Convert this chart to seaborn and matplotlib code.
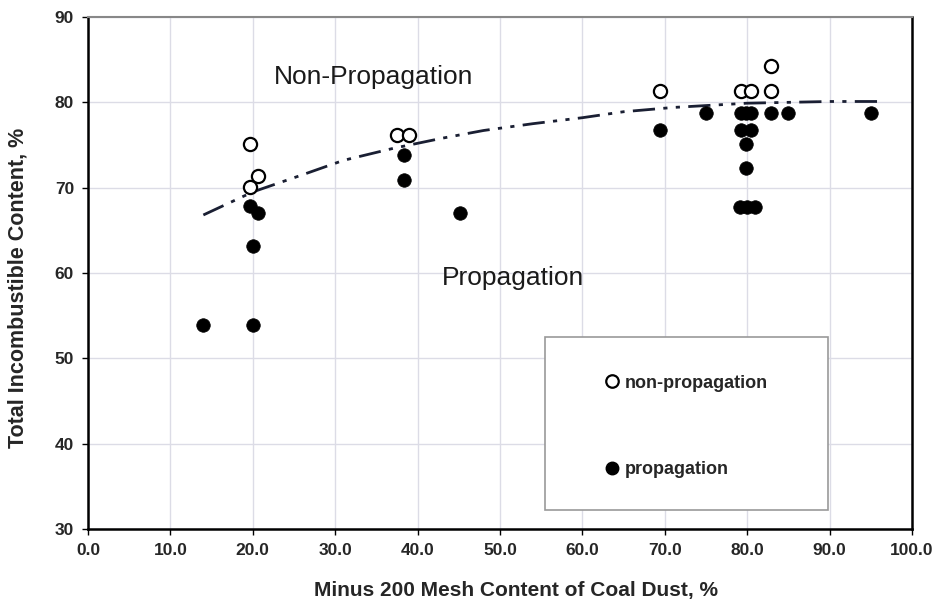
import matplotlib
matplotlib.use("Agg")
import matplotlib.pyplot as plt
import seaborn as sns
import pandas as pd
from matplotlib.lines import Line2D
from matplotlib.patches import Rectangle

# --- data ---
nonprop_x = [19.7, 20.6, 19.7, 37.5, 38.9, 69.4, 79.3, 80.5, 82.9, 82.9]
nonprop_y = [75.1, 71.4, 70.1, 76.2, 76.2, 81.3, 81.3, 81.3, 84.3, 81.3]

prop_x = [14.0, 20.0, 20.0, 19.7, 20.6, 38.3, 38.3, 45.1, 69.4, 75.0,
          79.3, 79.8, 80.4, 82.9, 85.0, 95.0, 79.3, 80.5, 79.9, 79.9,
          79.1, 80.0, 81.0]
prop_y = [53.9, 53.9, 63.2, 67.8, 67.0, 73.8, 70.9, 67.0, 76.8, 78.8,
          78.8, 78.8, 78.8, 78.8, 78.8, 78.8, 76.8, 76.8, 75.1, 72.3,
          67.7, 67.7, 67.7]

curve_x = [14, 20, 26, 31, 37, 43, 48, 54, 60, 65, 71, 80, 90, 96]
curve_y = [66.8, 69.5, 71.5, 73.2, 74.6, 75.8, 76.7, 77.5, 78.2, 78.9, 79.4, 79.9, 80.1, 80.1]

x_ticks = [0, 10, 20, 30, 40, 50, 60, 70, 80, 90, 100]
y_ticks = [30, 40, 50, 60, 70, 80, 90]

sns.set_theme(style="whitegrid")
plt.rcParams['font.family'] = ['Liberation Sans', 'DejaVu Sans']

fig = plt.figure(figsize=(9.38, 6.01), dpi=100)
ax = fig.add_axes([0.0938, 0.1198, 0.8785, 0.8519])

df_np = pd.DataFrame({"x": nonprop_x, "y": nonprop_y})
df_p = pd.DataFrame({"x": prop_x, "y": prop_y})
df_c = pd.DataFrame({"x": curve_x, "y": curve_y})

sns.lineplot(data=df_c, x="x", y="y", ax=ax, color="#1a1f33", lw=2.0,
             dashes=False, zorder=2)
ax.lines[-1].set_dashes([8, 3, 1.5, 3, 1.5, 3])

sns.scatterplot(data=df_p, x="x", y="y", ax=ax, s=95, color="black",
                edgecolor="black", linewidth=0.5, zorder=3)
sns.scatterplot(data=df_np, x="x", y="y", ax=ax, s=90, facecolor="white",
                edgecolor="black", linewidth=1.6, zorder=4)

ax.set_xlim(0, 100)
ax.set_ylim(30, 90)
ax.set_xticks(x_ticks)
ax.set_yticks(y_ticks)
ax.set_xticklabels([f"{t:.1f}" for t in x_ticks], fontsize=12.5, fontweight="bold")
ax.set_yticklabels([str(t) for t in y_ticks], fontsize=12.5, fontweight="bold")
ax.tick_params(axis="both", length=4, width=1, color="black", direction="out", pad=6)
ax.xaxis.set_ticks_position("bottom")
ax.yaxis.set_ticks_position("left")

ax.grid(True, color="#dcdce6", lw=1)
ax.set_facecolor("white")
for side in ["left", "bottom", "right"]:
    ax.spines[side].set_color("black")
    ax.spines[side].set_linewidth(1.8)
ax.spines["top"].set_color("#888888")
ax.spines["top"].set_linewidth(1.5)

ax.set_xlabel("Minus 200 Mesh Content of Coal Dust, %", fontsize=15,
              fontweight="bold")
ax.set_ylabel("Total Incombustible Content, %", fontsize=15.5,
              fontweight="bold")
ax.xaxis.set_label_coords(0.519, -0.102)
ax.yaxis.set_label_coords(-0.072, 0.47)

ax.text(34.6, 83.0, "Non-Propagation", fontsize=19, ha="center", va="center",
        color="#1a1a1a")
ax.text(51.6, 59.4, "Propagation", fontsize=19, ha="center", va="center",
        color="#1a1a1a")

# legend box
ax.add_patch(Rectangle((0.555, 0.037), 0.343, 0.338, transform=ax.transAxes,
                       facecolor="white", edgecolor="#999999", lw=1.2, zorder=5))
handles = [
    Line2D([], [], marker="o", ls="none", markerfacecolor="white",
           markeredgecolor="black", markeredgewidth=1.6, markersize=9),
    Line2D([], [], marker="o", ls="none", markerfacecolor="black",
           markeredgecolor="black", markersize=9),
]
leg = ax.legend(handles, ["non-propagation", "propagation"], loc="upper left",
                bbox_to_anchor=(0.605, 0.333), frameon=False, labelspacing=3.85,
                handletextpad=0.2, handlelength=1.0,
                prop={"size": 13, "weight": "bold"})
leg.set_zorder(6)

fig.savefig("out.png", dpi=100)
